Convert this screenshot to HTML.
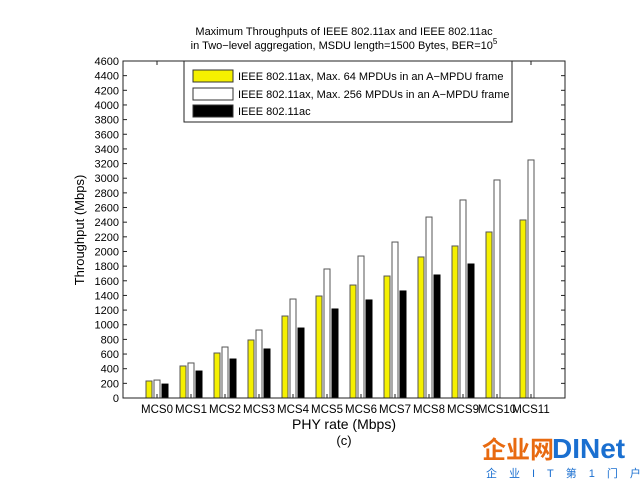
<!DOCTYPE html>
<html><head><meta charset="utf-8"><style>
body{margin:0;background:#fff;width:640px;height:480px;overflow:hidden;font-family:"Liberation Sans","Noto Sans CJK SC",sans-serif}
</style></head><body>
<svg id="c" width="640" height="480" font-family="Liberation Sans, Noto Sans CJK SC, sans-serif">
<text x="344" y="35" font-size="11" text-anchor="middle">Maximum Throughputs of IEEE 802.11ax and IEEE 802.11ac</text>
<text x="344" y="49" font-size="11" text-anchor="middle">in Two−level aggregation, MSDU length=1500 Bytes, BER=10<tspan dy="-5" font-size="8">5</tspan></text>
<text transform="translate(84,230) rotate(-90)" font-size="13" text-anchor="middle">Throughput (Mbps)</text>
<text x="344" y="429" font-size="14" text-anchor="middle">PHY rate (Mbps)</text>
<text x="344" y="445" font-size="13" text-anchor="middle">(c)</text>
<g id="bars"></g>
<rect x="123" y="61" width="442" height="337" fill="none" stroke="#222" stroke-width="1"/>
<g id="ticks"></g>
<g>
<rect x="184" y="61" width="328" height="61" fill="#fff" stroke="#222"/>
<rect x="193" y="70" width="40" height="12" fill="#f5f000" stroke="#333"/>
<text x="238" y="80" font-size="11">IEEE 802.11ax, Max. 64 MPDUs in an A−MPDU frame</text>
<rect x="193" y="88" width="40" height="12" fill="#fff" stroke="#333"/>
<text x="238" y="98" font-size="11">IEEE 802.11ax, Max. 256 MPDUs in an A−MPDU frame</text>
<rect x="193" y="105" width="40" height="12" fill="#000" stroke="#333"/>
<text x="238" y="115" font-size="11">IEEE 802.11ac</text>
</g>
<g>
<text x="482" y="458" font-size="24" font-weight="bold" fill="#e86a10">企业网</text>
<text x="552" y="458" font-size="28" font-weight="bold" fill="#1a6fd0">DINet</text>
<text x="486" y="477" font-size="11" fill="#1a6fd0" letter-spacing="12">企业IT第1门户</text>
</g>
</svg>
<script>
const categories=["MCS0","MCS1","MCS2","MCS3","MCS4","MCS5","MCS6","MCS7","MCS8","MCS9","MCS10","MCS11"];
const ax64=[232,437,614,792,1119,1392,1542,1665,1925,2075,2266,2430];
const ax256=[245,478,696,928,1351,1761,1938,2129,2470,2703,2976,3249];
const ac=[190,368,532,669,955,1215,1338,1461,1679,1829,null,null];
const yTicks=[0,200,400,600,800,1000,1200,1400,1600,1800,2000,2200,2400,2600,2800,3000,3200,3400,3600,3800,4000,4200,4400,4600];
const NS="http://www.w3.org/2000/svg";
const L=123,R=565,T=61,B=398,YMAX=4600;
function y(v){return B-(v/YMAX)*(B-T);}
function xc(i){return 157+i*34;}
const bars=document.getElementById('bars'),ticks=document.getElementById('ticks');
function mk(tag,attrs,parent){const e=document.createElementNS(NS,tag);for(const k in attrs)e.setAttribute(k,attrs[k]);parent.appendChild(e);return e;}
const series=[[ax64,"#f5f000","#555",-11,"ax64"],[ax256,"#fff","#555",-3,"ax256"],[ac,"#000","#000",5,"ac"]];
series.forEach(s=>{s[0].forEach((v,i)=>{if(v==null)return;
const r=mk('rect',{x:xc(i)+s[3],y:y(v),width:6,height:B-y(v),fill:s[1],stroke:s[2],'stroke-width':1},bars);

});});
yTicks.forEach(v=>{const yy=y(v);
mk('line',{x1:L,x2:L+4,y1:yy,y2:yy,stroke:'#222'},ticks);
mk('line',{x1:R,x2:R-4,y1:yy,y2:yy,stroke:'#222'},ticks);
const t=mk('text',{x:L-4,y:yy+4,'font-size':11,'text-anchor':'end'},ticks);t.textContent=v;

});
categories.forEach((c,i)=>{const xx=xc(i);
mk('line',{x1:xx,x2:xx,y1:B,y2:B-4,stroke:'#222'},ticks);
mk('line',{x1:xx,x2:xx,y1:T,y2:T+4,stroke:'#222'},ticks);
const t=mk('text',{x:xx,y:B+15,'font-size':11.5,'text-anchor':'middle'},ticks);t.textContent=c;

});
</script>
</body></html>
